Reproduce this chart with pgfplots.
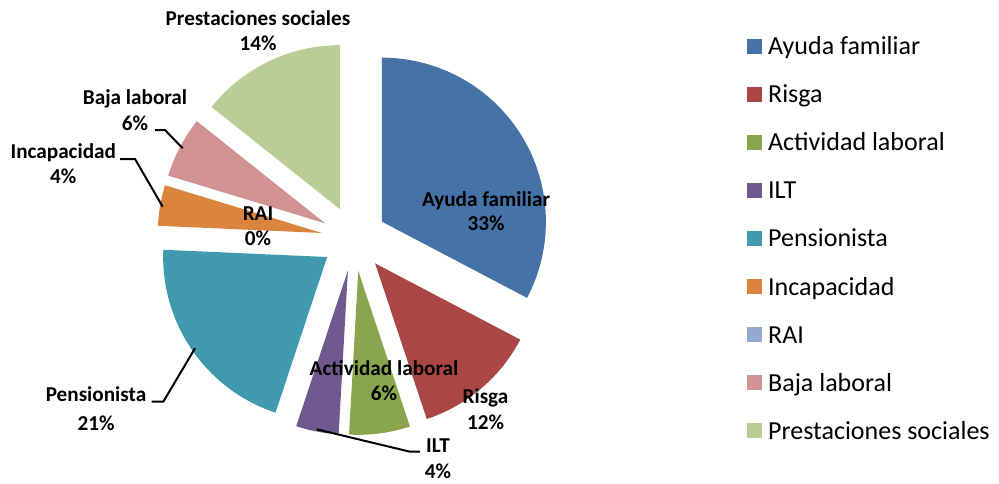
\documentclass[border=0pt]{standalone}
\usepackage{pgfplots}
\pgfplotsset{compat=1.18}
\usepackage{fontspec}
\setmainfont{Carlito}
\definecolor{cAyuda}{HTML}{4572A7}
\definecolor{cRisga}{HTML}{AA4643}
\definecolor{cAct}{HTML}{89A54E}
\definecolor{cILT}{HTML}{71588F}
\definecolor{cPens}{HTML}{4198AF}
\definecolor{cInc}{HTML}{DB843D}
\definecolor{cRAI}{HTML}{93A9CF}
\definecolor{cBaja}{HTML}{D19392}
\definecolor{cPrest}{HTML}{B9CD96}
% pie geometry (axis units = pixels): centre, explosion offset, radius
\def\cx{354}\def\cy{244.5}\def\off{32.6}\def\rad{164}
\gdef\cum{0}
\newcommand\slice[2]{% #1 = value (percent), #2 = colour
  \pgfmathsetmacro\sa{90-3.6*(\cum+#1)}%
  \pgfmathsetmacro\sb{90-3.6*\cum}%
  \pgfmathsetmacro\sm{(\sa+\sb)/2}%
  \pgfmathsetmacro\px{\cx+\off*cos(\sm)}%
  \pgfmathsetmacro\py{\cy+\off*sin(\sm)}%
  \edef\doslice{\noexpand\addplot[fill=#2, draw=none, domain=\sa:\sb, samples=80]
    ({\px+\rad*cos(x)}, {\py+\rad*sin(x)}) -- (axis cs:\px,\py) -- cycle;}%
  \doslice
  \pgfmathparse{\cum+#1}\xdef\cum{\pgfmathresult}%
}
\newcommand\lab[3]{% x, baseline y, text
  \node[anchor=base, inner sep=0pt, font=\fontsize{10.6}{12.7}\selectfont\bfseries] at (axis cs:#1,#2) {#3};
}
\begin{document}
\begin{tikzpicture}
\begin{axis}[
  width=499.5pt, height=241.5pt, scale only axis,
  xmin=0, xmax=999, ymin=0, ymax=483,
  hide axis, clip=false,
  legend image code/.code={\fill[#1] (0pt,-3.75pt) rectangle (7.5pt,3.75pt);},
  legend style={draw=none, fill=none, inner sep=0pt, 
    at={(axis description cs:0.7475,0.931)}, anchor=north west,
    font=\fontsize{13}{15.6}\selectfont,
    row sep=11.65pt, column sep=3pt,
    cells={anchor=west},
    nodes={inner sep=0pt, text height=10.4pt, text depth=2pt}},
]
\path (axis cs:0,0) rectangle (axis cs:999,483);
\slice{32.7}{cAyuda}\addlegendentry{Ayuda familiar}
\slice{12.2}{cRisga}\addlegendentry{Risga}
\slice{6.0}{cAct}\addlegendentry{Actividad laboral}
\slice{4.2}{cILT}\addlegendentry{ILT}
\slice{20.6}{cPens}\addlegendentry{Pensionista}
\slice{4.0}{cInc}\addlegendentry{Incapacidad}
\addlegendimage{fill=cRAI, draw=none}\addlegendentry{RAI}
\slice{6.0}{cBaja}\addlegendentry{Baja laboral}
\slice{14.3}{cPrest}\addlegendentry{Prestaciones sociales}
% leader lines
\draw[black, line width=1pt] (axis cs:155,353) -- (axis cs:165,353) -- (axis cs:182.7,334.7);
\draw[black, line width=1pt] (axis cs:120,324) -- (axis cs:135,324) -- (axis cs:162.7,276.3);
\draw[black, line width=1pt] (axis cs:151.7,81.3) -- (axis cs:163.3,81.3) -- (axis cs:195,134.7);
\draw[black, line width=1pt] (axis cs:316.7,53.7) -- (axis cs:410,31.3) -- (axis cs:420,31.3);
% data labels
\lab{258}{457}{Prestaciones sociales}
\lab{258}{432.3}{14\%}
\lab{135}{379}{Baja laboral}
\lab{135}{353}{6\%}
\lab{63.3}{324.7}{Incapacidad}
\lab{63.3}{300}{4\%}
\lab{258}{263}{RAI}
\lab{258}{238}{0\%}
\lab{486}{276.3}{Ayuda familiar}
\lab{486}{253}{33\%}
\lab{96}{81.3}{Pensionista}
\lab{96}{53}{21\%}
\lab{384}{108}{Actividad laboral}
\lab{384}{83}{6\%}
\lab{485.5}{80}{Risga}
\lab{485.5}{54}{12\%}
\lab{438}{31}{ILT}
\lab{438}{5}{4\%}
\end{axis}
\end{tikzpicture}
\end{document}
